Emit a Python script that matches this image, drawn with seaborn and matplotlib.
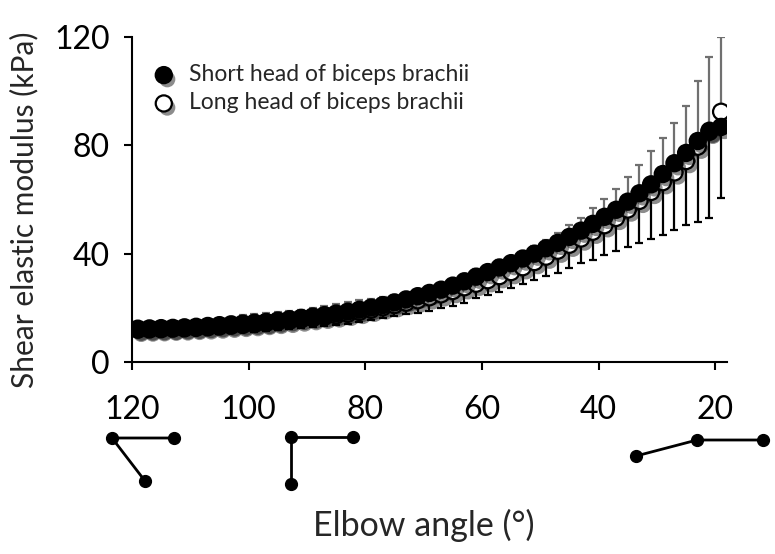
import numpy as np
import pandas as pd
import seaborn as sns
import matplotlib.pyplot as plt
import matplotlib.patheffects as pe

# elbow angle (deg), 119 -> 19
angles = [119, 117, 115, 113, 111, 109, 107, 105, 103, 101, 99, 97, 95, 93, 91, 89, 87,
          85, 83, 81, 79, 77, 75, 73, 71, 69, 67, 65, 63, 61, 59, 57, 55, 53, 51, 49,
          47, 45, 43, 41, 39, 37, 35, 33, 31, 29, 27, 25, 23, 21, 19]

short_mean = [12.3, 12.4, 12.5, 12.6, 12.8, 13.0, 13.3, 13.6, 13.9, 14.2, 14.5, 14.8, 15.3,
              15.8, 16.3, 16.8, 17.3, 17.9, 18.6, 19.3, 20.1, 21.0, 22.0, 23.1, 24.3, 25.5,
              26.7, 28.2, 29.8, 31.5, 33.2, 34.9, 36.5, 38.2, 40.0, 42.0, 44.0, 46.2, 48.5,
              51.0, 53.6, 56.2, 59.2, 62.3, 65.6, 69.4, 73.4, 77.2, 81.6, 85.4, 86.8]
short_sd = [1.8, 1.9, 2.0, 2.1, 2.2, 2.3, 2.4, 2.6, 2.8, 3.1, 3.3, 3.3, 3.2, 3.1, 3.0, 3.1,
            3.3, 3.6, 3.6, 3.5, 3.3, 3.0, 2.8, 2.7, 2.6, 2.6, 2.6, 2.6, 2.6, 2.7, 2.7, 2.8,
            2.8, 2.9, 3.0, 3.1, 3.5, 4.2, 4.6, 5.8, 6.6, 7.7, 9.2, 10.4, 12.2, 13.2, 14.7,
            17.4, 22.3, 27.1, 33.2]

long_mean = [11.9, 12.0, 12.1, 12.3, 12.4, 12.6, 12.8, 13.1, 13.4, 13.7, 14.0, 14.4, 14.8,
             15.2, 15.7, 16.2, 16.7, 17.2, 17.8, 18.5, 19.3, 20.2, 21.0, 21.9, 22.8, 23.9,
             25.0, 26.2, 27.6, 28.9, 30.2, 31.7, 33.2, 35.0, 36.9, 38.9, 41.1, 43.3, 45.6,
             48.1, 50.5, 53.2, 56.3, 59.5, 62.8, 66.4, 70.0, 74.2, 79.5, 85.0, 92.4]
long_sd = [2.0, 2.0, 2.1, 2.2, 2.3, 2.4, 2.5, 2.6, 2.7, 2.8, 2.9, 3.0, 3.1, 3.2, 3.3, 3.4,
           3.5, 3.6, 3.7, 3.8, 3.9, 4.0, 4.1, 4.3, 4.6, 4.9, 5.2, 5.5, 5.7, 5.4, 5.5, 5.7,
           6.0, 6.2, 6.6, 7.1, 8.1, 8.7, 9.2, 10.4, 11.0, 12.1, 14.0, 15.7, 17.5, 19.5,
           21.3, 23.6, 27.7, 31.7, 32.0]

df = pd.DataFrame({'angle': angles, 'short': short_mean, 'short_sd': short_sd,
                   'long': long_mean, 'long_sd': long_sd})

sns.set_style('ticks')
plt.rcParams['font.family'] = ['Lato', 'DejaVu Sans']

fig = plt.figure(figsize=(7.75, 5.54), dpi=100)
ax = fig.add_axes([0.1703, 0.3466, 0.7677, 0.5866])

# error bars: +SD (grey) for short head, -SD (black) for long head
ax.errorbar(df['angle'], df['short'], yerr=[np.zeros(len(df)), df['short_sd']],
            fmt='none', ecolor='#707070', elinewidth=1.6, capsize=3.2, capthick=1.6, zorder=1)
ax.errorbar(df['angle'], df['long'], yerr=[df['long_sd'], np.zeros(len(df))],
            fmt='none', ecolor='black', elinewidth=1.6, capsize=3.2, capthick=1.6, zorder=1)

shadow = [pe.SimplePatchShadow(offset=(2.5, -3), shadow_rgbFace='black', alpha=0.45), pe.Normal()]
sns.scatterplot(data=df, x='angle', y='long', ax=ax, color='white', edgecolor='black',
                linewidth=1.6, s=135, zorder=3, label='Long head of biceps brachii',
                path_effects=shadow)
sns.scatterplot(data=df, x='angle', y='short', ax=ax, color='black', edgecolor='black',
                linewidth=1.6, s=135, zorder=4, label='Short head of biceps brachii',
                path_effects=shadow)

ax.set_xlim(120, 18)
ax.set_ylim(0, 120)
ax.set_xticks([120, 100, 80, 60, 40, 20])
ax.set_yticks([0, 40, 80, 120])
ax.tick_params(axis='both', labelsize=23, width=1.5, length=6, color='black', labelcolor='black')
ax.tick_params(axis='x', pad=18)
ax.tick_params(axis='y', pad=10)
for s in ['left', 'bottom']:
    ax.spines[s].set_linewidth(1.5)
    ax.spines[s].set_color('black')
sns.despine(ax=ax)
ax.set_xlabel('')
ax.set_ylabel('Shear elastic modulus (kPa)', fontsize=21.5)
ax.yaxis.set_label_coords(-0.158, 0.468)

handles, labels = ax.get_legend_handles_labels()
ax.legend(handles[::-1], labels[::-1], loc='upper left', bbox_to_anchor=(-0.012, 0.98),
          frameon=False, fontsize=16.5, handlelength=1.6, handletextpad=0.29,
          labelspacing=0.32, markerscale=1.0)

fig.text(0.547, 0.052, 'Elbow angle (\u00b0)', fontsize=24.5, ha='center', va='center')

# elbow joint sketches below the angle axis (pixel coordinates)
deco = fig.add_axes([0, 0, 1, 1], facecolor='none')
deco.set_xlim(0, 775)
deco.set_ylim(554, 0)
deco.axis('off')
sketches = [
    [(174, 438), (112, 438), (145, 481)],
    [(353, 437), (291, 437), (291, 484)],
    [(763, 440), (697, 440), (636, 456)],
]
for pts in sketches:
    xs, ys = zip(*pts)
    deco.plot(xs, ys, color='black', lw=2, marker='o', ms=8.5, solid_capstyle='round')

fig.savefig('out.png', dpi=100)
